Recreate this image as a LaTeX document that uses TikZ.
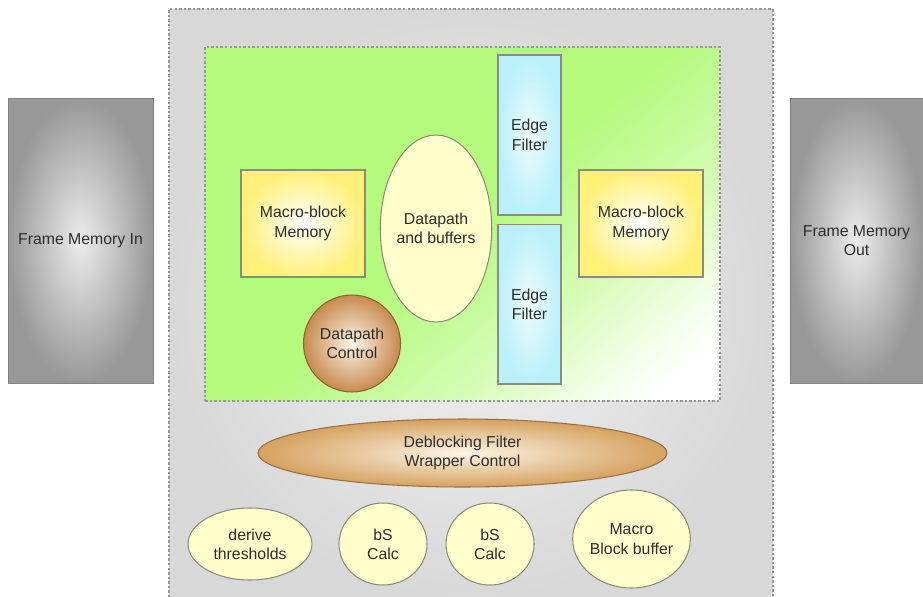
\documentclass[tikz,border=0pt]{standalone}
\usepackage{fontspec}
\setmainfont{Liberation Sans}
\usepackage{tikz}
\usetikzlibrary{
    shapes.geometric,
    positioning
}
\definecolor{Cframe}{RGB}{152, 152, 152}
\definecolor{Cframein}{RGB}{236, 236, 236}
\definecolor{Cchip}{RGB}{216, 216, 216}
\definecolor{Cchipin}{RGB}{242, 242, 242}
\definecolor{Ccore}{RGB}{180, 250, 125}
\definecolor{Cmem}{RGB}{255, 240, 120}
\definecolor{Cedge}{RGB}{185, 240, 250}
\definecolor{Cpale}{RGB}{255, 255, 204}
\definecolor{Cbrown}{RGB}{200, 138, 78}
\definecolor{Ctan}{RGB}{214, 162, 96}
\definecolor{Ccream}{RGB}{252, 244, 230}
\definecolor{Cline}{RGB}{140, 140, 120}
\definecolor{Cdot}{RGB}{150, 150, 150}
\definecolor{Ctext}{RGB}{45, 45, 45}
\pgfdeclareverticalshading{coreshade}{100bp}{
    color(0bp)=(white); color(20bp)=(white); color(26bp)=(Ccore!20);
    color(36bp)=(Ccore!60); color(50bp)=(Ccore); color(100bp)=(Ccore)}
\tikzset{
    fmem/.style={
        rectangle, draw=Cframe!85!black, line width=0.5pt,
        inner color=Cframein, outer color=Cframe, minimum height=5.7cm
    },
    chipbox/.style={
        rectangle, draw=Cdot, line width=0.8pt, dash pattern=on 1.4pt off 1.2pt,
        inner color=Cchipin, outer color=Cchip
    },
    corebox/.style={
        rectangle, draw=Cdot, line width=0.8pt, dash pattern=on 1.4pt off 1.2pt,
        shading=coreshade, shading angle=40
    },
    membox/.style={
        rectangle, draw=Cline, line width=0.6pt, inner color=white,
        outer color=Cmem, minimum width=2.48cm, minimum height=2.14cm
    },
    edgebox/.style={
        rectangle, draw=Cline, line width=0.6pt, inner color=Cedge!25,
        outer color=Cedge, minimum width=1.26cm, minimum height=3.2cm
    },
    paleoval/.style={
        ellipse, draw=Cline, line width=0.6pt, fill=Cpale
    },
    brownoval/.style={
        ellipse, draw=#1!70!black, line width=0.6pt,
        inner color=Ccream, outer color=#1
    },
}

\begin{document}
\begin{tikzpicture}[x=0.02cm, y=-0.02cm,
    every node/.style={font=\fontsize{9}{11}\selectfont, text=Ctext,
                       align=center, inner sep=0pt}]
    \useasboundingbox (0,0) rectangle (923,596);

    % ── Frame memories ───────────────────────────────────
    \node [fmem, minimum width=2.9cm] (fmemin) at (80.5,240.5) {Frame Memory In};
    \node [fmem, minimum width=2.66cm] (fmemout) at (856.5,240.5) {Frame Memory\\Out};

    % ── Deblocking filter block ──────────────────────────
    \node [chipbox, minimum width=12.08cm, minimum height=11.82cm] (chip) at (471,304.5) {};
    \node [corebox, minimum width=10.3cm, minimum height=7.08cm] (core) at (462.5,224) {};

    % ── Core contents ────────────────────────────────────
    \node [membox] (mbmemL) at (303,223.5) {Macro-block\\Memory};
    \node [paleoval, minimum width=1.96cm, minimum height=3.74cm]
        (dpbuf) at (436,228.5) {Datapath\\and buffers};
    \node [brownoval=Cbrown, minimum width=1.94cm, minimum height=1.94cm]
        (dpctrl) at (352,343.5) {Datapath\\Control};
    \node [edgebox] (edgeA) at (529.5,135) {Edge\\Filter};
    \node [edgebox, below=0.16cm of edgeA] (edgeB) {Edge\\Filter};
    \node [membox] (mbmemR) at (641,223.5) {Macro-block\\Memory};

    % ── Wrapper control and helpers ──────────────────────
    \node [brownoval=Ctan, minimum width=8.18cm, minimum height=1.36cm]
        (wrapctl) at (462.5,453) {Deblocking Filter\\Wrapper Control};
    \node [paleoval, minimum width=2.48cm, minimum height=1.44cm]
        (derive) at (250,544) {derive\\thresholds};
    \node [paleoval, minimum width=1.76cm, minimum height=1.64cm]
        (bsA) at (383,544) {bS\\Calc};
    \node [paleoval, minimum width=1.76cm, minimum height=1.64cm, right=0.36cm of bsA]
        (bsB) {bS\\Calc};
    \node [paleoval, minimum width=2.14cm, minimum height=1.96cm]
        (mbbuf) at (631.5,539) {Macro\\Block buffer};

\end{tikzpicture}
\end{document}
